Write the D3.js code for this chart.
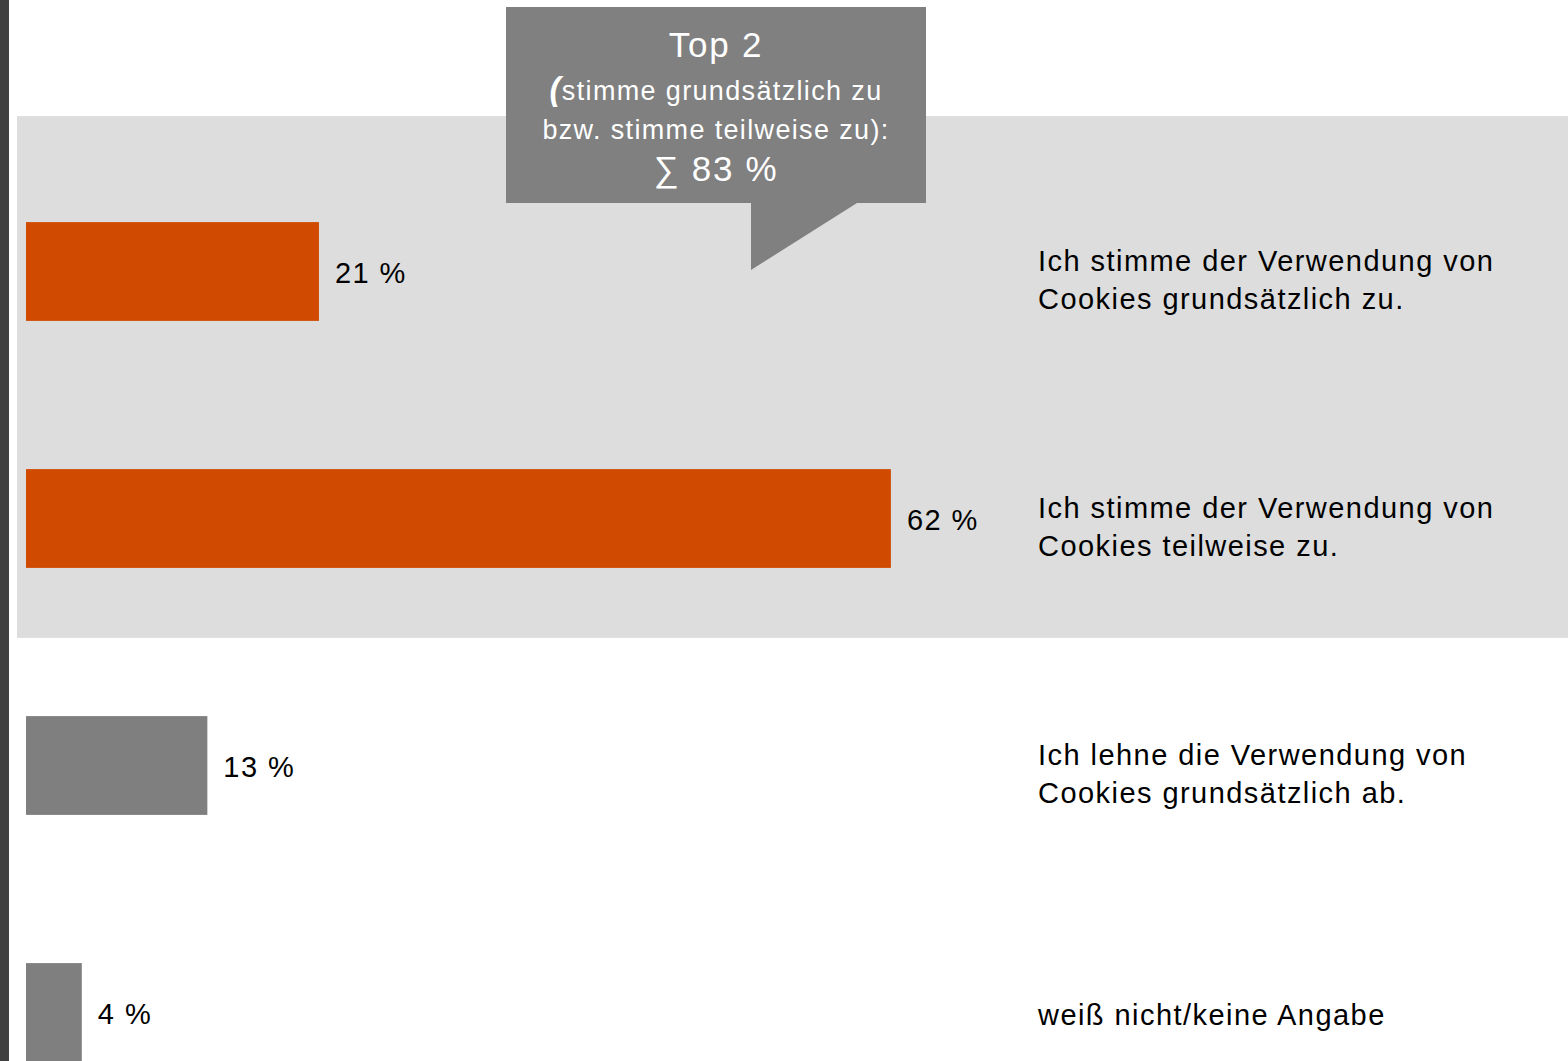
<!DOCTYPE html>
<html>
<head>
<meta charset="utf-8">
<script src="https://cdn.jsdelivr.net/npm/d3@7"></script>
<style>
  html, body { margin: 0; padding: 0; background: #fff; }
  svg { display: block; font-family: "Liberation Sans", Arial, sans-serif; }
  svg text { letter-spacing: 0.05em; }
</style>
</head>
<body>
<div id="chart"></div>
<script>
(function () {

var width = 1568;
var height = 1061;

// data
var categories = [
  ["Ich stimme der Verwendung von", "Cookies grundsätzlich zu."],
  ["Ich stimme der Verwendung von", "Cookies teilweise zu."],
  ["Ich lehne die Verwendung von", "Cookies grundsätzlich ab."],
  ["weiß nicht/keine Angabe"]
];
var values = [21, 62, 13, 4];
var isTop2 = [true, true, false, false];
var calloutLines = ["Top 2", "stimme grundsätzlich zu", "bzw. stimme teilweise zu):", "∑ 83 %"];

var orange = "#d04a02";
var grey = "#7f7f7f";

var svg = d3.select("#chart")
  .append("svg")
  .attr("width", width)
  .attr("height", height);

var idx = d3.range(values.length);

var x = d3.scaleLinear().domain([0, 100]).range([26, 1421]);
var y = d3.scaleBand().domain(idx).range([148, 1136])
  .paddingInner(0.6).paddingOuter(0.3);

// dark strip at left edge
svg.append("rect")
  .attr("x", 0).attr("y", 0)
  .attr("width", 9).attr("height", height)
  .attr("fill", "#404040");

// light grey band behind the top 2 rows
svg.append("rect")
  .attr("x", 17)
  .attr("y", y(0) - 106)
  .attr("width", width - 17)
  .attr("height", (y(1) + y.bandwidth() + 70) - (y(0) - 106))
  .attr("fill", "#dddddd");

// bars
svg.selectAll("rect.bar")
  .data(idx)
  .enter().append("rect")
  .attr("class", "bar")
  .attr("x", x(0))
  .attr("y", function(i) { return y(i); })
  .attr("width", function(i) { return x(values[i]) - x(0); })
  .attr("height", y.bandwidth())
  .attr("fill", function(i) { return isTop2[i] ? orange : grey; });

// value labels
svg.selectAll("text.val")
  .data(idx)
  .enter().append("text")
  .attr("class", "val")
  .attr("x", function(i) { return x(values[i]) + 16; })
  .attr("y", function(i) { return y(i) + y.bandwidth() / 2 + 11; })
  .style("font-size", "29px")
  .style("fill", "#000")
  .text(function(i) { return values[i] + " %"; });

// category labels on the right
var cat = svg.selectAll("text.cat")
  .data(idx)
  .enter().append("text")
  .attr("class", "cat")
  .attr("x", 1038)
  .attr("y", function(i) {
    var c = y(i) + y.bandwidth() / 2;
    return categories[i].length > 1 ? c - 1 : c + 12;
  })
  .style("font-size", "29px")
  .style("fill", "#000");

cat.each(function(i) {
  var t = d3.select(this);
  categories[i].forEach(function(line, k) {
    t.append("tspan")
      .attr("x", 1038)
      .attr("dy", k === 0 ? 0 : 38)
      .text(line);
  });
});

// callout box
var cx = 716;
var callout = svg.append("g");
callout.append("path")
  .attr("d", "M506,7 L926,7 L926,203 L857,203 L751,270 L751,203 L506,203 Z")
  .attr("fill", "#808080");

callout.append("text")
  .attr("x", cx).attr("y", 57)
  .attr("text-anchor", "middle")
  .style("font-size", "35px")
  .style("fill", "#fff")
  .text(calloutLines[0]);

var l2 = callout.append("text")
  .attr("x", cx).attr("y", 100)
  .attr("text-anchor", "middle")
  .style("font-size", "27px")
  .style("fill", "#fff");
l2.append("tspan")
  .style("font-weight", "bold")
  .style("font-style", "italic")
  .style("font-size", "33px")
  .text("(");
l2.append("tspan").text(calloutLines[1]);

callout.append("text")
  .attr("x", cx).attr("y", 139)
  .attr("text-anchor", "middle")
  .style("font-size", "27px")
  .style("fill", "#fff")
  .text(calloutLines[2]);

callout.append("text")
  .attr("x", cx).attr("y", 181)
  .attr("text-anchor", "middle")
  .style("font-size", "35px")
  .style("fill", "#fff")
  .text(calloutLines[3]);

})();
</script>
</body>
</html>
